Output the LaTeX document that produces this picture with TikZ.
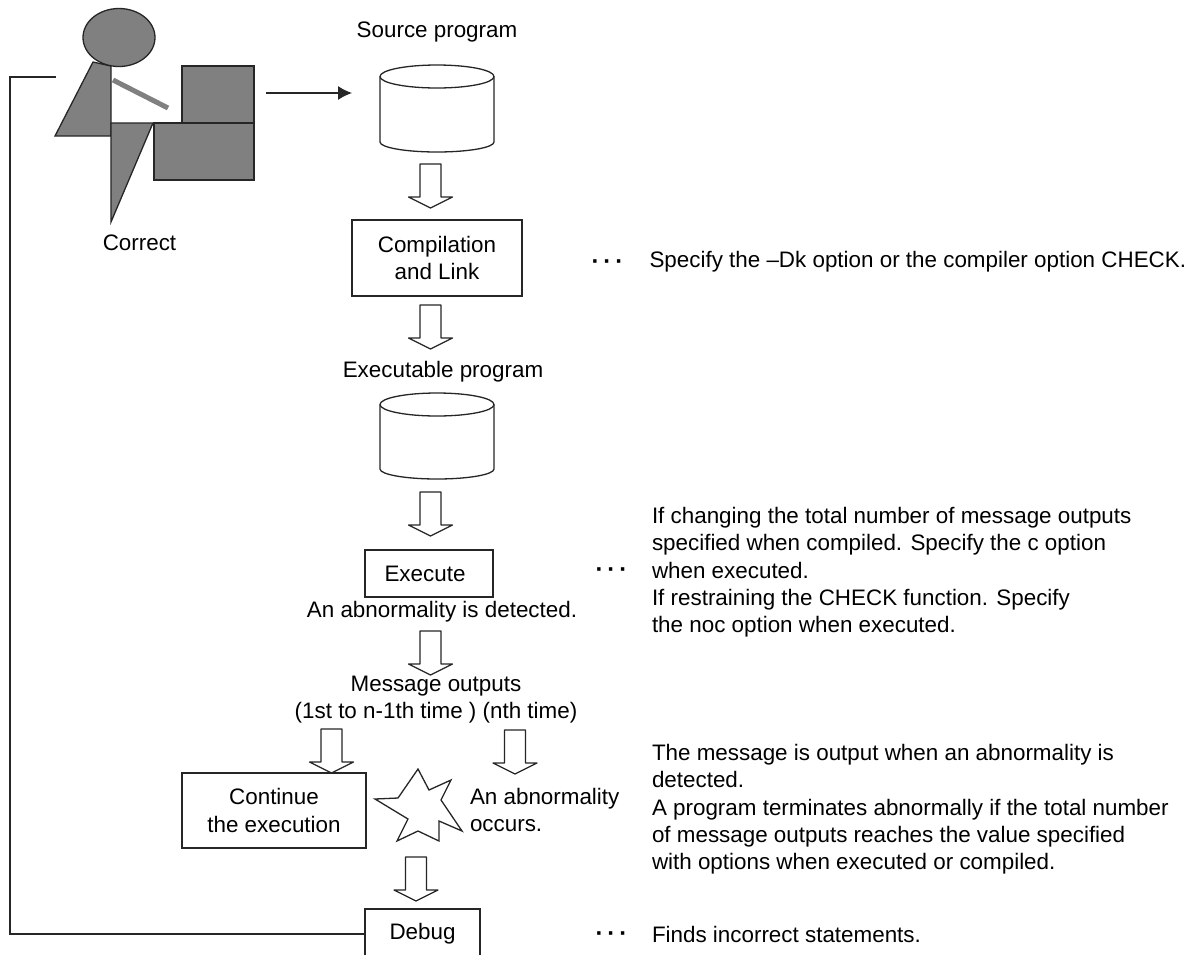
\documentclass[tikz,border=0pt]{standalone}
\usepackage{fontspec}
\setmainfont{Liberation Sans}
\usetikzlibrary{arrows.meta,shapes.geometric}
\newcommand{\dfont}{\fontsize{22.4}{27.2}\selectfont}
\tikzset{
  x=1pt,y=-1pt,
  every node/.style={font=\dfont,inner sep=0pt,outer sep=0pt},
  ink/.style={draw=black!85,line width=1.3pt},
  solid gray/.style={ink,fill=black!50},
  boxnode/.style={ink,fill=white,rectangle,align=center},
  lbl/.style={align=center},
  note/.style={align=left,anchor=north west},
  dots/.style={font=\fontsize{24}{26}\selectfont\bfseries},
  line/.style={draw=black!85,line width=1.3pt},
  pics/blockdown/.style={code={
    \path[ink,fill=white,line join=round] (-10.5,0)--(10.5,0)--(10.5,33)--(22,33)--(0,44)--(-22,33)--(-10.5,33)--cycle;
  }}
}
\begin{document}
\begin{tikzpicture}
\useasboundingbox (0,0) rectangle (1194,954);
\clip (0,0) rectangle (1194,954);
\fill[white] (0,0) rectangle (1194,954);

% person
\path[solid gray] (93,62)--(111,66)--(111,136)--(55,136)--cycle;
\draw[draw=black!50,line width=5pt] (113,80)--(168,108);
\path[solid gray] (111,123)--(153,123)--(111,222)--cycle;
\path[solid gray] (182,66) rectangle (254,123);
\path[solid gray] (154,123) rectangle (254,180);
\node[solid gray,ellipse,minimum width=72pt,minimum height=58pt] (head) at (119,37.5) {};
\coordinate (personright) at (266,93);
\coordinate (arrowend) at (352,93);
\coordinate (personleft) at (56,77);
\coordinate (cornertop) at (10,77);
\coordinate (cornerbot) at (10,934);

\node[lbl] (correct) at (139.5,243) {Correct};
\node[lbl] (srclabel) at (437,32) {Source program};
% source cylinder
\path[ink,fill=white] (380,76.5) -- (380,142) .. controls (380,147.5) and (405.5,152) .. (437,152) .. controls (468.5,152) and (494,147.5) .. (494,142) -- (494,76.5);
\path[ink,fill=white] (437,76.5) ellipse [x radius=57pt,y radius=11.5pt];
\pic at (430.5,164) {blockdown};
\node[boxnode,minimum width=170pt,minimum height=76pt] (compile) at (437,258) {Compilation\\and Link};
\pic at (430.5,305) {blockdown};
\node[lbl] (exelabel) at (443,372) {Executable program};
% executable cylinder
\path[ink,fill=white] (380,404.5) -- (380,469) .. controls (380,474.5) and (405.5,479) .. (437,479) .. controls (468.5,479) and (494,474.5) .. (494,469) -- (494,404.5);
\path[ink,fill=white] (437,404.5) ellipse [x radius=57pt,y radius=11.5pt];
\pic at (430.5,492) {blockdown};
\node[boxnode,minimum width=128pt,minimum height=47pt] (execute) at (429,573.5) {Execute\hspace{8pt}};
\node[lbl] (abn) at (442,612) {An abnormality is detected.};
\pic at (430.5,631) {blockdown};
\node[lbl] (msg) at (436,700) {Message outputs\\(1st to n-1th time ) (nth time)};
\pic at (331.5,729) {blockdown};
\pic at (515,730) {blockdown};
\node[boxnode,minimum width=184pt,minimum height=75pt] (cont) at (274,810.5) {Continue\\the execution};
\path[ink,fill=white] (418,769)--(429,790)--(451,780)--(441,800)--(462,831)--(439,821)--(439,841)--(418,831)--(397,841)--(408,819)--(375,799)--(398,798)--cycle;
\node[align=left,anchor=west] (occ) at (470,810) {An abnormality\\occurs.};
\pic at (416,857) {blockdown};
\node[boxnode,minimum width=115pt,minimum height=50pt] (debug) at (422.5,934) {Debug};

\draw[line,-{Latex[length=14pt,width=14pt]}] (personright) -- (arrowend);
\draw[line] (debug.west) -- (cornerbot) -- (cornertop) -- (personleft);

\node[dots] (d1) at (607.5,265) {·\,·\,·};
\node[anchor=west] (n1) at (649.5,262) {Specify the –Dk option or the compiler option CHECK.};
\node[dots] (d2) at (611.5,573) {·\,·\,·};
\node[note] (n2) at (652,507.5) {If changing the total number of message outputs\\specified when compiled. Specify the c option\\when executed.\\If restraining the CHECK function. Specify\\the noc option when executed.};
\node[note] (n3) at (652,744.5) {The message is output when an abnormality is\\detected.\\A program terminates abnormally if the total number\\of message outputs reaches the value specified\\with options when executed or compiled.};
\node[dots] (d3) at (611.5,937) {·\,·\,·};
\node[anchor=west] (n4) at (652,934) {Finds incorrect statements.};
\end{tikzpicture}
\end{document}
